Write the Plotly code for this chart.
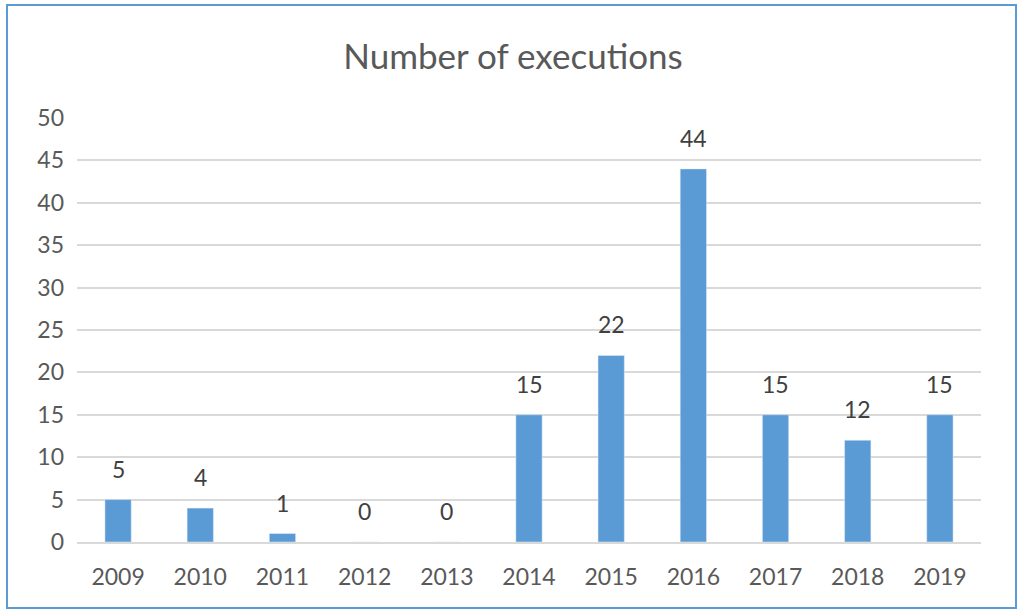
import plotly.graph_objects as go

years = ['2009', '2010', '2011', '2012', '2013', '2014', '2015', '2016', '2017', '2018', '2019']
executions = [5, 4, 1, 0, 0, 15, 22, 44, 15, 12, 15]

# plot area in pixels: x 77..981, y 118..542
L, R, T, B = 77, 45, 118, 74
W, H = 1026, 616
pw, ph = W - L - R, H - T - B

fig = go.Figure(go.Bar(
    x=years,
    y=executions,
    marker_color='#5B9BD5',
    hoverinfo='x+y',
))

# value labels above bars (category axis -> annotations use the category index)
for i, v in enumerate(executions):
    fig.add_annotation(x=i, y=v, text=str(v), showarrow=False,
                       yanchor='bottom', yshift=15,
                       font=dict(size=23, color='#404040'))

fig.update_layout(
    width=W, height=H,
    margin=dict(l=L, r=R, t=T, b=B),
    paper_bgcolor='white',
    plot_bgcolor='white',
    font=dict(family='Lato, Open Sans, sans-serif', color='#595959'),
    title=dict(text='Number of executions', x=0.5, xanchor='center',
               y=1 - 57 / H, yanchor='middle',
               font=dict(size=35, color='#595959')),
    bargap=0.68,
    showlegend=False,
    xaxis=dict(type='category', showgrid=False, showline=True, linecolor='#D9D9D9', linewidth=2,
               tickfont=dict(size=23, color='#595959'), ticks='', ticklabelstandoff=13),
    yaxis=dict(range=[0, 50], dtick=5, gridcolor='#D9D9D9', gridwidth=2,
               zeroline=False, showline=False,
               tickfont=dict(size=23, color='#595959'), ticklabelstandoff=12),
    shapes=[dict(type='rect', xref='paper', yref='paper',
                 x0=(7 - L) / pw, x1=(1016 - L) / pw,
                 y0=(542 - 608) / ph, y1=(542 - 5) / ph,
                 line=dict(color='#5B9BD5', width=2), layer='below')],
)

fig.write_html("out.html", config={'displayModeBar': False},
               post_script="document.body.style.margin='0';")
